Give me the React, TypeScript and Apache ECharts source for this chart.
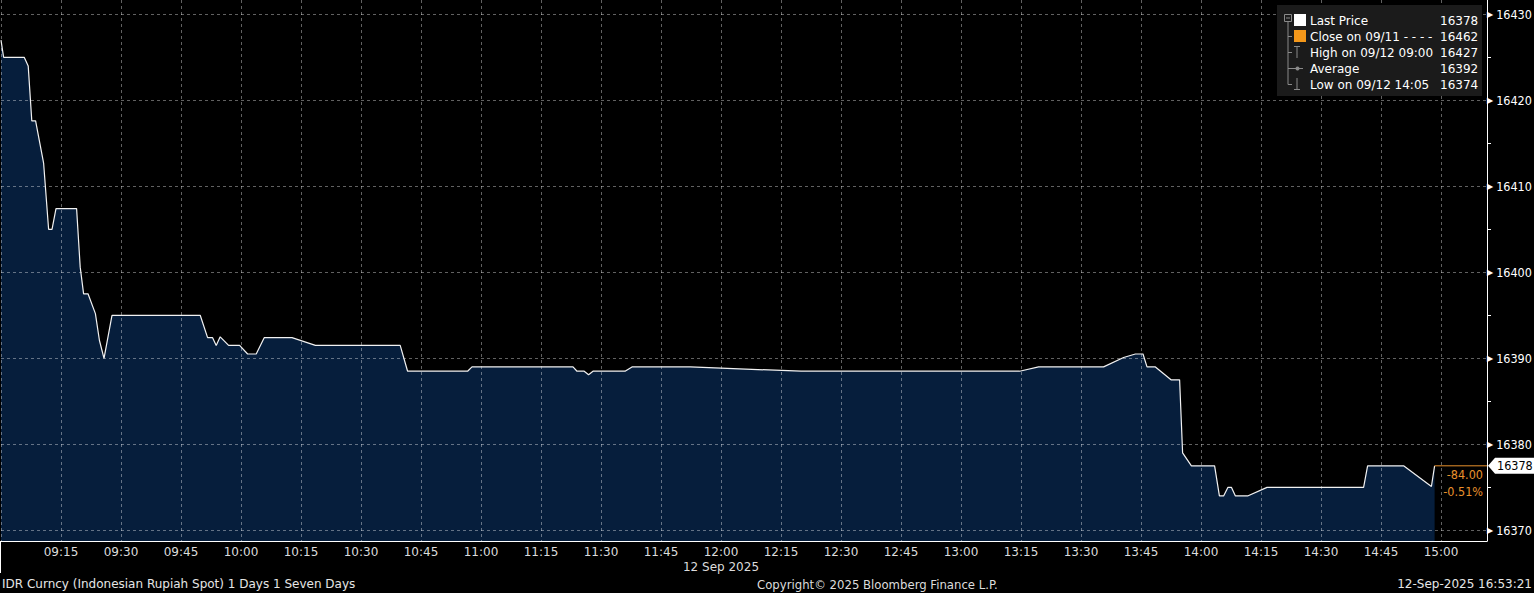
import React, { useEffect, useRef } from "react";
import * as echarts from "echarts";

// ---- data ----
const times: string[] = [
  "09:00:00", "09:00:39", "09:05:48", "09:06:48", "09:07:42", "09:08:39", "09:10:39", "09:11:54",
  "09:12:45", "09:13:45", "09:18:54", "09:19:48", "09:20:39", "09:21:45", "09:23:36", "09:24:36",
  "09:25:45", "09:27:45", "09:49:48", "09:51:39", "09:52:54", "09:53:48", "09:54:48", "09:56:54",
  "09:59:39", "10:01:39", "10:03:48", "10:05:48", "10:12:45", "10:18:36", "10:39:48", "10:41:39",
  "10:56:39", "10:57:45", "11:23:00", "11:24:00", "11:25:48", "11:26:54", "11:28:00", "11:36:00",
  "11:37:45", "11:52:18", "12:20:00", "13:14:39", "13:19:24", "13:35:39", "13:40:39", "13:43:36",
  "13:45:30", "13:46:30", "13:48:36", "13:52:30", "13:54:39", "13:55:24", "13:57:36", "14:03:24",
  "14:04:36", "14:05:39", "14:06:45", "14:07:36", "14:08:36", "14:11:39", "14:16:30", "14:40:39",
  "14:41:39", "14:50:39", "14:57:36", "14:58:24",
];
const prices: number[] = [
  16427.0, 16425.0, 16425.0, 16424.0, 16417.6, 16417.6, 16412.7, 16405.0,
  16405.0, 16407.4, 16407.4, 16400.6, 16397.5, 16397.5, 16395.2, 16392.1,
  16390.0, 16395.0, 16395.0, 16392.4, 16392.4, 16391.5, 16392.5, 16391.5,
  16391.5, 16390.5, 16390.5, 16392.4, 16392.4, 16391.5, 16391.5, 16388.5,
  16388.5, 16389.0, 16389.0, 16388.5, 16388.5, 16388.1, 16388.5, 16388.5,
  16389.0, 16389.0, 16388.5, 16388.5, 16389.0, 16389.0, 16390.1, 16390.5,
  16390.5, 16389.0, 16389.0, 16387.5, 16387.5, 16379.0, 16377.5, 16377.5,
  16374.0, 16374.0, 16375.0, 16375.0, 16374.0, 16374.0, 16375.0, 16375.0,
  16377.5, 16377.5, 16375.1, 16377.5,
];

const legendNames: string[] = ["Last Price", "Close on 09/11 - - - -", "High on 09/12 09:00", "Average", "Low on 09/12 14:05"];
const legendValues: string[] = ["16378", "16462", "16427", "16392", "16374"];
const lastPriceLabel = "16378";
const changeLabels: string[] = ["-84.00", "-0.51%"];
const dateLabel = "12 Sep 2025";
const footerLeft = "IDR Curncy (Indonesian Rupiah Spot) 1 Days 1 Seven Days";
const footerCenter = "Copyright\u00A9 2025 Bloomberg Finance L.P.";
const footerRight = "12-Sep-2025 16:53:21";

const xMin = 540; // 09:00
const xMax = 911.5;
const yMin = 16368.76;
const yMax = 16431.66;

const toMin = (s: string) => {
  const [h, m, sec] = s.split(":").map(Number);
  return h * 60 + m + sec / 60;
};
const fmtTime = (v: number) => {
  const h = Math.floor(v / 60);
  const m = Math.round(v - h * 60);
  return `${String(h).padStart(2, "0")}:${String(m).padStart(2, "0")}`;
};

const FONT = "DejaVu Sans";
const FONT_C = "DejaVu Sans Condensed";
const ORANGE = "#e8912c";
const GRID = "rgba(255,255,255,0.38)";
const TREE = "#8a8a8a";

export default function App() {
  const ref = useRef<HTMLDivElement>(null);
  useEffect(() => {
    if (!ref.current) return;
    const chart = echarts.init(ref.current, null, { renderer: "svg" });
    const pts = times.map((t, i) => [toMin(t), prices[i]]);
    const last = pts[pts.length - 1];

    chart.setOption({
      animation: false,
      backgroundColor: "#000",
      grid: { left: 1, right: 47, top: 0, bottom: 52, containLabel: false, outerBoundsMode: "none" },
      xAxis: {
        type: "value",
        min: xMin,
        max: xMax,
        minInterval: 15,
        maxInterval: 15,
        z: 2,
        axisLine: { show: true, lineStyle: { color: "#fff", width: 1 } },
        axisTick: { show: false },
        axisLabel: {
          color: "#dcdcdc",
          fontFamily: FONT,
          fontSize: 12,
          margin: 5,
          showMinLabel: false,
          showMaxLabel: false,
          formatter: (v: number) => fmtTime(v),
        },
        splitLine: { show: true, showMinLine: true, showMaxLine: false, lineStyle: { color: GRID, type: [3, 3], width: 1 } },
      },
      yAxis: {
        type: "value",
        position: "right",
        min: yMin,
        max: yMax,
        minInterval: 10,
        maxInterval: 10,
        z: 2,
        axisLine: { show: true, lineStyle: { color: "#fff", width: 1 } },
        axisTick: { show: false },
        minorTick: { show: true, splitNumber: 2, length: 4, lineStyle: { color: "#fff", width: 1 } },
        axisLabel: {
          margin: 0,
          showMinLabel: false,
          showMaxLabel: false,
          formatter: (v: number) => `{t|\u25B6}{v|${Math.round(v)}}`,
          rich: {
            t: { fontSize: 8, color: "#fff", fontFamily: FONT, padding: [0, 3, 0, 0] },
            v: { fontSize: 12.5, color: "#fff", fontFamily: FONT_C },
          },
        },
        splitLine: { show: true, showMinLine: false, showMaxLine: false, lineStyle: { color: GRID, type: [3, 3], width: 1 } },
      },
      series: [
        {
          type: "line",
          data: pts,
          showSymbol: false,
          silent: true,
          z: 1,
          lineStyle: { width: 0 },
          areaStyle: { color: "#061e3c", opacity: 1, origin: "start" },
        },
        {
          type: "line",
          data: pts,
          showSymbol: false,
          silent: true,
          z: 4,
          lineStyle: { color: "#f2f2f2", width: 1.2 },
        },
        {
          type: "line",
          data: [last, [xMax, last[1]]],
          showSymbol: false,
          silent: true,
          z: 4,
          lineStyle: { color: ORANGE, width: 1 },
        },
      ],
    });

    const [xr, yl] = chart.convertToPixel({ gridIndex: 0 }, [xMax, last[1]]) as number[];
    const [xNoon] = chart.convertToPixel({ gridIndex: 0 }, [720, last[1]]) as number[];
    const [xStart, yBottom] = chart.convertToPixel({ gridIndex: 0 }, [xMin, yMin]) as number[];

    const rowY = [20.5, 36.5, 52.5, 68.5, 84.5];
    const legendEls: any[] = [
      { type: "rect", shape: { x: 1277, y: 5, width: 205, height: 91 }, style: { fill: "#1b1b1b" }, z: 10 },
      { type: "rect", shape: { x: 1284.5, y: 14.5, width: 7, height: 7 }, style: { fill: "none", stroke: TREE, lineWidth: 1 }, z: 11 },
      { type: "line", shape: { x1: 1286, y1: 18, x2: 1290, y2: 18 }, style: { stroke: TREE, lineWidth: 1 }, z: 11 },
      { type: "line", shape: { x1: 1288, y1: 22, x2: 1288, y2: rowY[4] }, style: { stroke: TREE, lineWidth: 1 }, z: 11 },
      { type: "rect", shape: { x: 1294, y: 14, width: 12, height: 12 }, style: { fill: "#ffffff" }, z: 11 },
      { type: "rect", shape: { x: 1294, y: 30, width: 12, height: 12 }, style: { fill: "#f5981a" }, z: 11 },
      // High icon
      { type: "line", shape: { x1: 1294, y1: 46.5, x2: 1300, y2: 46.5 }, style: { stroke: TREE, lineWidth: 1 }, z: 11 },
      { type: "line", shape: { x1: 1297, y1: 46.5, x2: 1297, y2: 58 }, style: { stroke: TREE, lineWidth: 1 }, z: 11 },
      // Average icon
      { type: "line", shape: { x1: 1292, y1: 68.5, x2: 1303, y2: 68.5 }, style: { stroke: TREE, lineWidth: 1 }, z: 11 },
      { type: "circle", shape: { cx: 1297.5, cy: 68.5, r: 2 }, style: { fill: TREE }, z: 11 },
      // Low icon
      { type: "line", shape: { x1: 1297, y1: 78, x2: 1297, y2: 89.5 }, style: { stroke: TREE, lineWidth: 1 }, z: 11 },
      { type: "line", shape: { x1: 1294, y1: 89.5, x2: 1300, y2: 89.5 }, style: { stroke: TREE, lineWidth: 1 }, z: 11 },
    ];
    rowY.slice(1).forEach((y) => {
      legendEls.push({ type: "line", shape: { x1: 1288, y1: y, x2: 1292, y2: y }, style: { stroke: TREE, lineWidth: 1 }, z: 11 });
    });
    legendNames.forEach((n, i) => {
      legendEls.push({
        type: "text", x: 1310, y: rowY[i], z: 12,
        style: { text: n, fill: "#ffffff", font: `12px '${FONT}'`, textVerticalAlign: "middle", textAlign: "left" },
      });
      legendEls.push({
        type: "text", x: 1440, y: rowY[i], z: 12,
        style: { text: legendValues[i], fill: "#ffffff", font: `12px '${FONT}'`, textVerticalAlign: "middle", textAlign: "left" },
      });
    });

    const tagEls: any[] = [
      {
        type: "polygon", z: 12,
        shape: { points: [[xr + 1, yl], [xr + 8, yl - 8], [1534, yl - 8], [1534, yl + 8], [xr + 8, yl + 8]] },
        style: { fill: "#ffffff" },
      },
      {
        type: "text", x: xr + 10, y: yl, z: 13,
        style: { text: lastPriceLabel, fill: "#000", font: `12.5px '${FONT_C}'`, textVerticalAlign: "middle", textAlign: "left" },
      },
      {
        type: "text", x: xr - 4, y: yl + 9, z: 13,
        style: { text: changeLabels[0], fill: ORANGE, font: `12.5px '${FONT_C}'`, textVerticalAlign: "middle", textAlign: "right" },
      },
      {
        type: "text", x: xr - 4, y: yl + 26, z: 13,
        style: { text: changeLabels[1], fill: ORANGE, font: `12.5px '${FONT_C}'`, textVerticalAlign: "middle", textAlign: "right" },
      },
    ];

    const footerEls: any[] = [
      { type: "line", shape: { x1: xStart - 0.5, y1: yBottom, x2: xStart - 0.5, y2: yBottom + 32 }, style: { stroke: "#fff", lineWidth: 1 }, z: 12 },
      {
        type: "text", x: xNoon, y: 567, z: 12,
        style: { text: dateLabel, fill: "#dcdcdc", font: `12px '${FONT}'`, textVerticalAlign: "middle", textAlign: "center" },
      },
      {
        type: "text", x: 2, y: 584, z: 12,
        style: { text: footerLeft, fill: "#e6e6e6", font: `12px '${FONT}'`, textVerticalAlign: "middle", textAlign: "left" },
      },
      {
        type: "text", x: 757, y: 584, z: 12,
        style: { text: footerCenter, fill: "#dcdcdc", font: `13px '${FONT_C}'`, textVerticalAlign: "middle", textAlign: "left" },
      },
      {
        type: "text", x: 1532, y: 584, z: 12,
        style: { text: footerRight, fill: "#e6e6e6", font: `12px '${FONT}'`, textVerticalAlign: "middle", textAlign: "right" },
      },
    ];

    chart.setOption({ graphic: [...legendEls, ...tagEls, ...footerEls] });

    return () => chart.dispose();
  }, []);

  return <div ref={ref} style={{ position: "absolute", left: 0, top: 0, width: 1534, height: 593 }} />;
}
